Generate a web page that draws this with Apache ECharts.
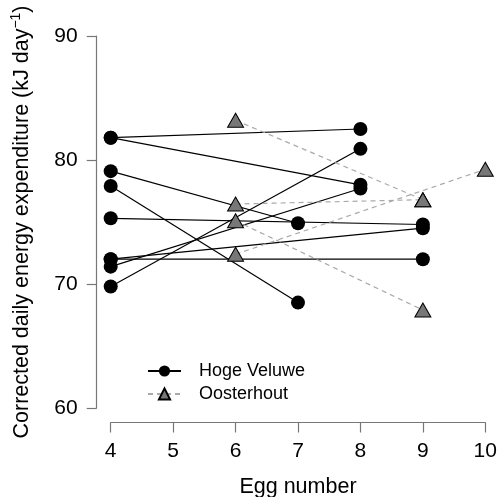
<!DOCTYPE html>
<html>
<head>
<meta charset="utf-8">
<script src="https://cdn.jsdelivr.net/npm/echarts@6/dist/echarts.min.js"></script>
<style>
html,body{margin:0;padding:0;background:#fff;}
#chart{width:497px;height:497px;}
</style>
</head>
<body>
<div id="chart"></div>
<script>
// Hoge Veluwe: each pair = one individual (start egg, start value) -> (end egg, end value)
const hogeX1 = [4, 4, 4, 4, 4, 4, 4, 4, 4];
const hogeY1 = [81.8, 81.8, 79.1, 77.9, 75.3, 72.0, 72.0, 71.4, 69.8];
const hogeX2 = [8, 8, 7, 7, 9, 9, 9, 8, 8];
const hogeY2 = [82.5, 78.0, 74.9, 68.5, 74.8, 72.0, 74.5, 77.7, 80.9];

// Oosterhout
const oostX1 = [6, 6, 6, 6];
const oostY1 = [83.2, 76.45, 75.1, 72.4];
const oostX2 = [9, 9, 9, 10];
const oostY2 = [76.8, 76.8, 67.9, 79.25];

const xTicks = [4, 5, 6, 7, 8, 9, 10];
const yTicks = [60, 70, 80, 90];

const FONT = 'Liberation Sans, Arial, Helvetica, sans-serif';

const series = [];
hogeX1.forEach((x, i) => {
  series.push({
    name: 'Hoge Veluwe',
    type: 'line',
    clip: false,
    data: [[x, hogeY1[i]], [hogeX2[i], hogeY2[i]]],
    symbol: 'circle',
    symbolSize: 14,
    itemStyle: { color: '#000', borderColor: '#000', borderWidth: 0 },
    lineStyle: { color: '#000', width: 1.2 },
    emphasis: { disabled: true },
    z: 2
  });
});
oostX1.forEach((x, i) => {
  series.push({
    name: 'Oosterhout',
    type: 'line',
    clip: false,
    data: [[x, oostY1[i]], [oostX2[i], oostY2[i]]],
    symbol: 'triangle',
    symbolSize: [16, 14],
    itemStyle: { color: '#777', borderColor: '#000', borderWidth: 1 },
    lineStyle: { color: '#aaa', width: 1.2, type: [5, 4] },
    emphasis: { disabled: true },
    z: 3
  });
});

const chart = echarts.init(document.getElementById('chart'), null, { renderer: 'canvas' });
chart.setOption({
  animation: false,
  backgroundColor: '#fff',
  grid: { left: 110.7, right: 11.7, top: 36, bottom: 89, containLabel: false, outerBoundsMode: 'none' },
  legend: {
    data: ['Hoge Veluwe', 'Oosterhout'],
    orient: 'vertical',
    left: 147,
    top: 362,
    padding: 0,
    itemWidth: 33,
    itemHeight: 14,
    itemGap: 5,
    textStyle: { fontFamily: FONT, fontSize: 18, lineHeight: 14, color: '#000', padding: [0, 0, 0, 13] },
    selectedMode: false
  },
  xAxis: {
    type: 'value',
    min: 4, max: 10, interval: 1,
    offset: 14.5,
    name: 'Egg number',
    nameLocation: 'middle',
    nameGap: 54,
    nameTextStyle: { fontFamily: FONT, fontSize: 21.5, color: '#000' },
    axisLine: { show: true, onZero: false, lineStyle: { color: '#777', width: 1.2 } },
    axisTick: { show: true, length: 10, lineStyle: { color: '#777', width: 1.2 } },
    axisLabel: { fontFamily: FONT, fontSize: 21, color: '#000', margin: 18,
      formatter: v => xTicks.includes(v) ? String(v) : '' },
    splitLine: { show: false }
  },
  yAxis: {
    type: 'value',
    min: 60, max: 90, interval: 10,
    offset: 14,
    name: '{m|Corrected daily energy expenditure (kJ day}{s|−1}{m|)}',
    nameLocation: 'middle',
    nameGap: 61,
    nameRotate: 90,
    nameTextStyle: {
      fontFamily: FONT, fontSize: 21.5, color: '#000',
      rich: {
        m: { fontFamily: FONT, fontSize: 21.5, color: '#000' },
        s: { fontFamily: FONT, fontSize: 14, color: '#000', padding: [0, 0, 13, 0] }
      }
    },
    axisLine: { show: true, onZero: false, lineStyle: { color: '#777', width: 1.2 } },
    axisTick: { show: true, length: 10, lineStyle: { color: '#777', width: 1.2 } },
    axisLabel: { fontFamily: FONT, fontSize: 21, color: '#000', margin: 19,
      formatter: v => yTicks.includes(v) ? String(v) : '' },
    splitLine: { show: false }
  },
  series: series
});
</script>
</body>
</html>
